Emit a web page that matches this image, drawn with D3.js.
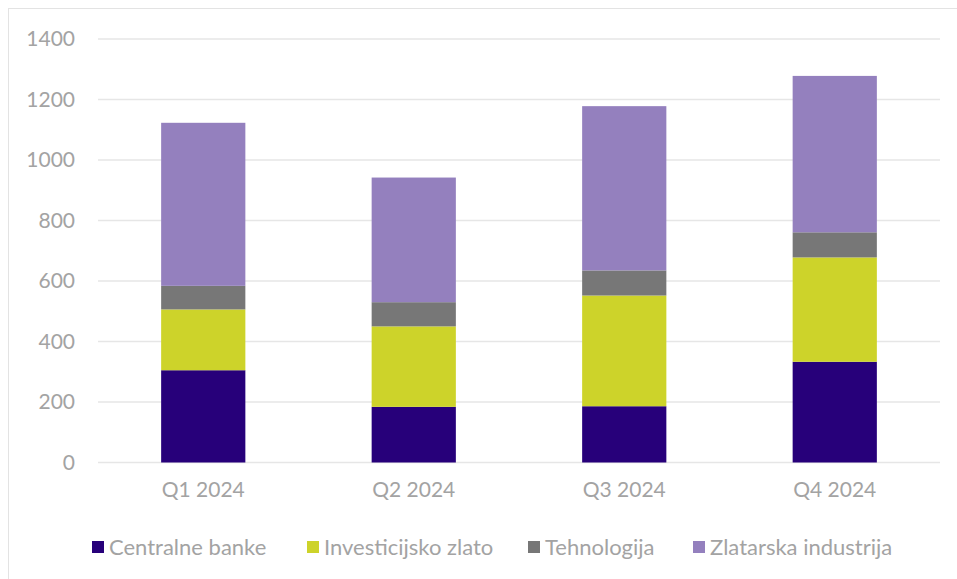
<!DOCTYPE html>
<html>
<head>
<meta charset="utf-8">
<script src="https://cdn.jsdelivr.net/npm/d3@7"></script>
<style>
  html, body { margin: 0; padding: 0; background: #fff; }
  svg { display: block; }
  text { font-family: Lato, "Open Sans", sans-serif; }
</style>
</head>
<body>
<svg id="chart" width="957" height="579"></svg>
<script>
const categories = ["Q1 2024", "Q2 2024", "Q3 2024", "Q4 2024"];
const seriesNames = ["Centralne banke", "Investicijsko zlato", "Tehnologija", "Zlatarska industrija"];
const centralneBanke = [305, 184, 186, 333];
const investicijskoZlato = [201, 266, 366, 345];
const tehnologija = [78, 80, 83, 83];
const zlatarskaIndustrija = [539, 412, 543, 517];
const yTicks = [0, 200, 400, 600, 800, 1000, 1200, 1400];
const colors = ["#27007a", "#cdd32a", "#777777", "#9480be"];

const seriesValues = [centralneBanke, investicijskoZlato, tehnologija, zlatarskaIndustrija];
const rows = categories.map((c, i) => {
  const r = { cat: c };
  seriesNames.forEach((s, j) => r[s] = seriesValues[j][i]);
  return r;
});

const svg = d3.select("#chart");
const margin = { left: 98, right: 17, top: 39, bottom: 116.5 };
const W = 957, H = 579;

// outer border
svg.append("rect").attr("x", 8.5).attr("y", 8.5).attr("width", W + 10).attr("height", H + 10)
  .attr("fill", "none").attr("stroke", "#e3e3e3").attr("stroke-width", 1);

const x = d3.scaleBand().domain(categories)
  .range([margin.left, W - margin.right]).paddingInner(0.6).paddingOuter(0.3);
const y = d3.scaleLinear().domain([0, 1400]).range([H - margin.bottom, margin.top]);

// gridlines
svg.append("g").selectAll("line").data(yTicks).join("line")
  .attr("x1", margin.left).attr("x2", W - margin.right)
  .attr("y1", d => y(d)).attr("y2", d => y(d))
  .attr("stroke", "#e6e6e6").attr("stroke-width", 1.5);

// y axis labels
const yAxis = d3.axisLeft(y).tickValues(yTicks).tickFormat(d3.format("d")).tickSize(0).tickPadding(0);
const gy = svg.append("g").attr("transform", `translate(75,0)`).call(yAxis);
gy.select(".domain").remove();
gy.selectAll("text").attr("fill", "#a3a3a3").style("font-size", "21px")
  .style("font-family", "Lato, sans-serif");

// stacked bars
const stack = d3.stack().keys(seriesNames);
const stacked = stack(rows);
svg.append("g").selectAll("g").data(stacked).join("g")
  .attr("fill", (d, i) => colors[i])
  .selectAll("rect").data(d => d).join("rect")
  .attr("x", d => x(d.data.cat))
  .attr("width", x.bandwidth())
  .attr("y", d => y(d[1]))
  .attr("height", d => y(d[0]) - y(d[1]));

// x axis labels
const xAxis = d3.axisBottom(x).tickSize(0).tickPadding(0);
const gx = svg.append("g").attr("transform", `translate(0,${y(0) + 20})`).call(xAxis);
gx.select(".domain").remove();
gx.selectAll("text").attr("fill", "#a3a3a3").style("font-size", "21px")
  .style("font-family", "Lato, sans-serif");

// legend
const legendX = [92, 307, 528, 693];
const lg = svg.append("g");
seriesNames.forEach((s, i) => {
  const g = lg.append("g").attr("transform", `translate(${legendX[i]},541)`);
  g.append("rect").attr("width", 12).attr("height", 12).attr("fill", colors[i]);
  g.append("text").attr("x", 17).attr("y", 6).attr("dy", "0.35em")
    .attr("fill", "#a3a3a3").style("font-size", "22px").text(s);
});
</script>
</body>
</html>
